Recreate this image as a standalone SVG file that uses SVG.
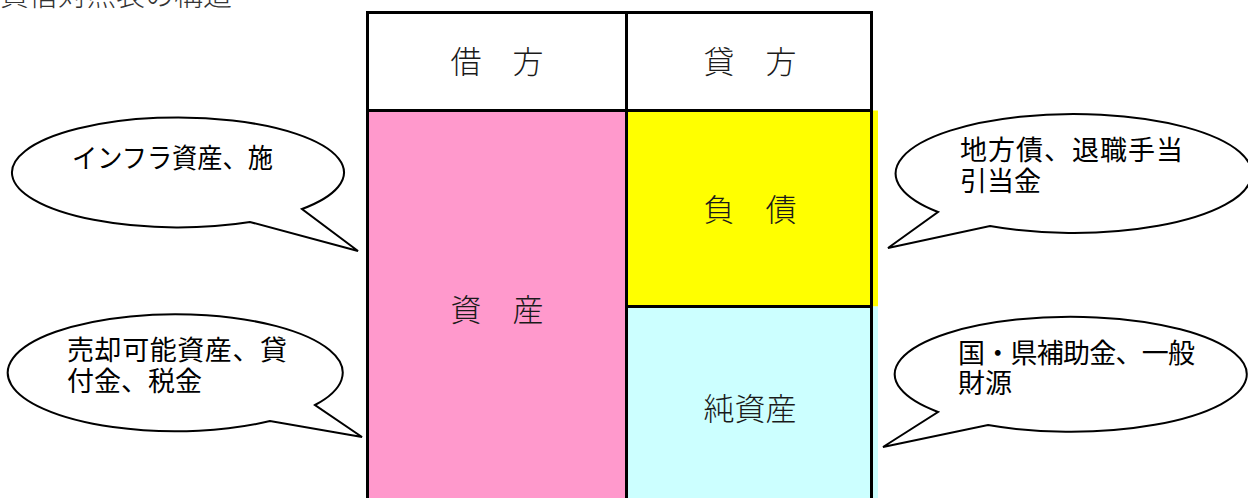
<svg xmlns="http://www.w3.org/2000/svg" width="1248" height="498" viewBox="0 0 1248 498">
<style>
.cell-text{font-family:"Noto Sans CJK JP","Noto Sans CJK SC",sans-serif;font-size:31px;fill:#1a1a1a;text-anchor:middle;font-weight:300}
.bub-text{font-family:"Noto Sans CJK JP","Noto Sans CJK SC",sans-serif;font-size:27px;fill:#000}
.bubble{fill:#fff;stroke:#000;stroke-width:2;stroke-linejoin:miter}
.border{stroke:#000;stroke-width:3;fill:none}
.title{font-family:"Noto Sans CJK JP","Noto Sans CJK SC",sans-serif;font-size:29px;fill:#333;font-weight:300}
</style>
<rect width="1248" height="498" fill="#fff"/>
<g id="title">
<text class="title" x="0" y="6" textLength="232" lengthAdjust="spacingAndGlyphs">貸借対照表の構造</text>
</g>
<g id="header-debit">
<rect x="367.5" y="12.5" width="259" height="98" fill="#fff"/>
<text class="cell-text" x="497" y="73">借　方</text>
</g>
<g id="header-credit">
<rect x="626.5" y="12.5" width="245" height="98" fill="#fff"/>
<text class="cell-text" x="750" y="73">貸　方</text>
</g>
<g id="assets">
<rect x="367.5" y="110.5" width="259" height="400" fill="#FF99CC"/>
<text class="cell-text" x="497" y="321">資　産</text>
</g>
<g id="liabilities">
<rect x="626.5" y="110.5" width="251.5" height="196" fill="#FFFF00"/>
<text class="cell-text" x="750" y="221">負　債</text>
</g>
<g id="net-assets">
<rect x="626.5" y="306.5" width="251.5" height="200" fill="#CCFFFF"/>
<text class="cell-text" x="750" y="420">純資産</text>
</g>
<g id="table-borders">
<line class="border" x1="367.5" y1="11" x2="367.5" y2="498"/>
<line class="border" x1="626.5" y1="11" x2="626.5" y2="498"/>
<line class="border" x1="871.5" y1="11" x2="871.5" y2="498"/>
<line class="border" x1="366" y1="12.5" x2="873" y2="12.5"/>
<line class="border" x1="366" y1="110.5" x2="873" y2="110.5"/>
<line class="border" x1="626.5" y1="306.5" x2="873" y2="306.5"/>
</g>
<g id="bubble-infra">
<path class="bubble" d="M 250,222 A 166 55 0 1 1 302,209 L 358,251 Z"/>
<text class="bub-text" x="72" y="168" textLength="201" lengthAdjust="spacingAndGlyphs">インフラ資産、施</text>
</g>
<g id="bubble-sale">
<path class="bubble" d="M 270,421 A 167.5 58.5 0 1 1 315,405 L 362,437 Z"/>
<text class="bub-text" x="67" y="360" textLength="220">売却可能資産、貸</text>
<text class="bub-text" x="67" y="391">付金、税金</text>
</g>
<g id="bubble-debt">
<path class="bubble" d="M 990,226 A 178 59.5 0 1 0 938,212 L 888,248 Z"/>
<text class="bub-text" x="960" y="160" textLength="223">地方債、退職手当</text>
<text class="bub-text" x="960" y="191">引当金</text>
</g>
<g id="bubble-subsidy">
<path class="bubble" d="M 988,425 A 176 57.5 0 1 0 938,412 L 883,447 Z"/>
<text class="bub-text" x="958" y="363" textLength="237">国・県補助金、一般</text>
<text class="bub-text" x="958" y="393">財源</text>
</g>
<g id="connectors"></g>
</svg>
